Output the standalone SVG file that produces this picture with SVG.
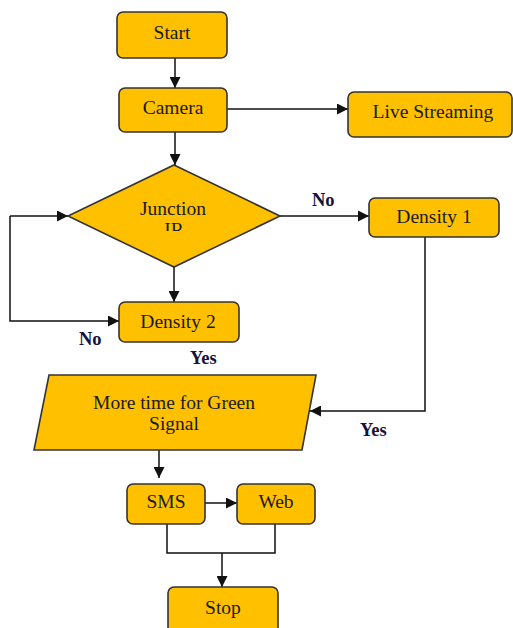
<svg xmlns="http://www.w3.org/2000/svg" width="513" height="628" viewBox="0 0 513 628">
  <style>
    .box { fill: #FFC000; stroke: #333; stroke-width: 1.6; }
    .txt { font-family: "Liberation Serif", "Times New Roman", serif; font-size: 19.5px; fill: #1a1a1a; text-anchor: middle; }
    .lbl { font-family: "Liberation Serif", "Times New Roman", serif; font-size: 18.5px; font-weight: bold; fill: #14143a; }
    .edge { fill: none; stroke: #111; stroke-width: 1.5; }
  </style>
  <defs>
    <marker id="arrow" viewBox="0 0 10 10" refX="10" refY="5" markerWidth="11" markerHeight="11" markerUnits="userSpaceOnUse" orient="auto">
      <path d="M0,0 L10,5 L0,10 z" fill="#111"/>
    </marker>
    <clipPath id="irClip">
      <rect x="140" y="215" width="70" height="16"/>
    </clipPath>
  </defs>
  <rect width="513" height="628" fill="#fff"/>

  <g id="connectors">
    <path class="edge" d="M175,58 V88" marker-end="url(#arrow)"/>
    <path class="edge" d="M227,109 H348" marker-end="url(#arrow)"/>
    <path class="edge" d="M175,132 V165" marker-end="url(#arrow)"/>
    <path class="edge" d="M280,216 H369" marker-end="url(#arrow)"/>
    <path class="edge" d="M174,267 V302" marker-end="url(#arrow)"/>
    <path class="edge" d="M10,216 H68" marker-end="url(#arrow)"/>
    <path class="edge" d="M10,216 V321 H119" marker-end="url(#arrow)"/>
    <path class="edge" d="M425,237 V411 H310" marker-end="url(#arrow)"/>
    <path class="edge" d="M159,450 V478" marker-end="url(#arrow)"/>
    <path class="edge" d="M205,503 H237" marker-end="url(#arrow)"/>
    <path class="edge" d="M167,524 V553 H275 V524"/>
    <path class="edge" d="M222,553 V587" marker-end="url(#arrow)"/>
    <text class="lbl" x="312" y="206">No</text>
    <text class="lbl" x="79" y="345">No</text>
    <text class="lbl" x="190" y="364">Yes</text>
    <text class="lbl" x="360" y="436">Yes</text>
  </g>

  <g id="start">
    <rect class="box" x="117" y="12" width="110" height="46" rx="6"/>
    <text class="txt" x="172" y="39">Start</text>
  </g>
  <g id="camera">
    <rect class="box" x="119" y="88" width="108" height="44" rx="6"/>
    <text class="txt" x="173" y="114">Camera</text>
  </g>
  <g id="live-streaming">
    <rect class="box" x="348" y="92" width="164" height="45" rx="6"/>
    <text class="txt" x="433" y="118">Live Streaming</text>
  </g>
  <g id="junction">
    <polygon class="box" points="174,165 280,216 174,267 68,216"/>
    <text class="txt" x="173" y="215">Junction</text>
    <text class="txt" x="174" y="236" clip-path="url(#irClip)">IR</text>
  </g>
  <g id="density-1">
    <rect class="box" x="369" y="198" width="130" height="39" rx="6"/>
    <text class="txt" x="434" y="223">Density 1</text>
  </g>
  <g id="density-2">
    <rect class="box" x="119" y="302" width="120" height="40" rx="6"/>
    <text class="txt" x="178" y="328">Density 2</text>
  </g>
  <g id="green-signal">
    <polygon class="box" points="49,375 316,375 302,450 34,450"/>
    <text class="txt" x="174" y="409">More time for Green</text>
    <text class="txt" x="174" y="430">Signal</text>
  </g>
  <g id="sms">
    <rect class="box" x="127" y="484" width="78" height="40" rx="6"/>
    <text class="txt" x="166" y="508">SMS</text>
  </g>
  <g id="web">
    <rect class="box" x="237" y="484" width="78" height="40" rx="6"/>
    <text class="txt" x="276" y="508">Web</text>
  </g>
  <g id="stop">
    <rect class="box" x="168" y="587" width="110" height="50" rx="6"/>
    <text class="txt" x="223" y="614">Stop</text>
  </g>
</svg>
